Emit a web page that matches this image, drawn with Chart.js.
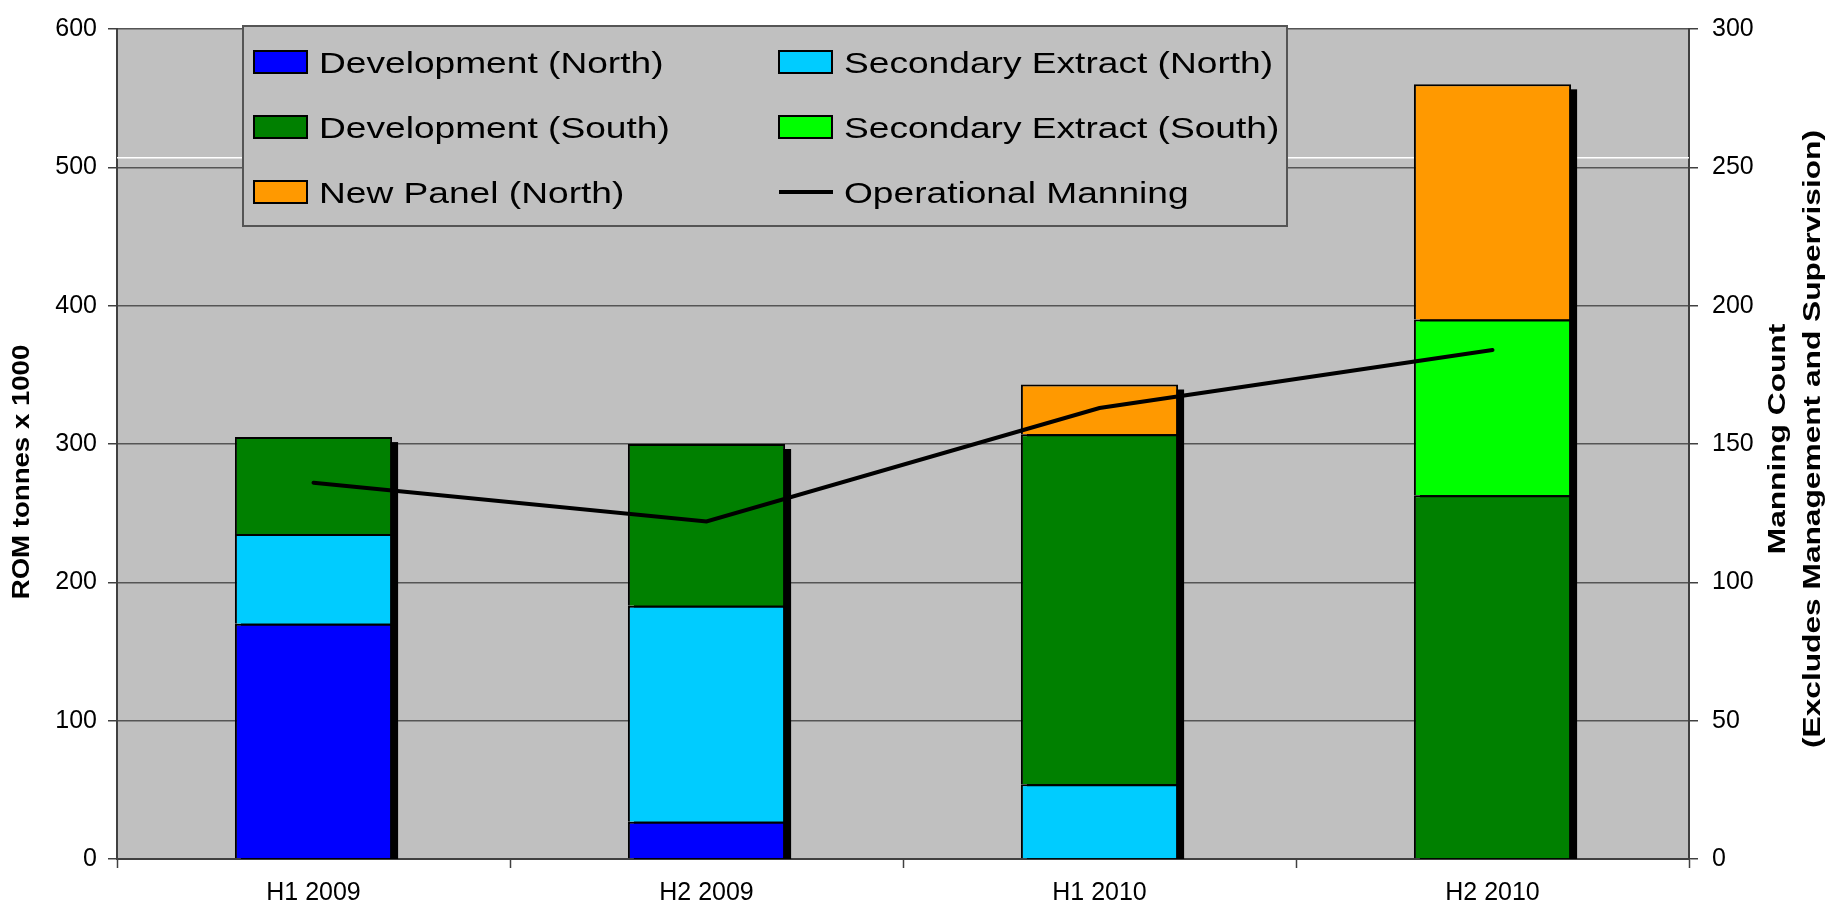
<!DOCTYPE html>
<html>
<head>
<meta charset="utf-8">
<title>ROM tonnes and manning</title>
<script src="https://cdn.jsdelivr.net/npm/chart.js@4.4.1/dist/chart.umd.min.js"></script>
<style>
    body { margin: 0; background: #ffffff; }
    canvas { display: block; }
</style>
</head>
<body>
<canvas id="romChart" width="1831" height="909"></canvas>
<script>
// data
const categories = ['H1 2009', 'H2 2009', 'H1 2010', 'H2 2010'];
const developmentNorth = [170, 27, null, null];
const secondaryNorth = [65, 156, 54, null];
const developmentSouth = [70, 117, 253, 263];
const secondarySouth = [null, null, null, 127];
const newPanelNorth = [null, null, 36, 170];
const operationalManning = [136, 122, 163, 184];

const leftTicks = [0, 100, 200, 300, 400, 500, 600];
const rightTicks = [0, 50, 100, 150, 200, 250, 300];
const leftTitle = 'ROM tonnes x 1000';
const rightTitle = ['Manning Count', '(Excludes Management and Supervision)'];
const whiteLineValue = 507;

const tickFont = { family: "'Liberation Sans', Arial, sans-serif", size: 25 };
const axisColor = '#404040';

function barSet(label, data, color) {
    return {
        type: 'bar',
        label: label,
        data: data,
        backgroundColor: color,
        borderColor: '#000000',
        borderWidth: 2,
        stack: 'rom',
        yAxisID: 'y',
        order: 1,
        categoryPercentage: 1.0,
        barPercentage: 0.4
    };
}

// gray plot area
const plotBackground = {
    id: 'plotBackground',
    beforeDraw(chart) {
        const { ctx, chartArea } = chart;
        ctx.save();
        ctx.fillStyle = '#c0c0c0';
        ctx.fillRect(chartArea.left, chartArea.top, chartArea.right - chartArea.left, chartArea.bottom - chartArea.top);
        ctx.restore();
    }
};

// thin white line + drop shadow behind each stack
const barShadows = {
    id: 'barShadows',
    beforeDatasetsDraw(chart) {
        const { ctx, chartArea } = chart;
        const y = chart.scales.y.getPixelForValue(whiteLineValue);
        ctx.save();
        ctx.strokeStyle = '#ffffff';
        ctx.lineWidth = 1.5;
        ctx.beginPath();
        ctx.moveTo(chartArea.left, y);
        ctx.lineTo(chartArea.right, y);
        ctx.stroke();

        ctx.beginPath();
        ctx.rect(chartArea.left, chartArea.top, chartArea.right - chartArea.left, chartArea.bottom - chartArea.top);
        ctx.clip();
        ctx.fillStyle = '#000000';
        categories.forEach((c, i) => {
            let top = null, left = 0, width = 0, base = 0;
            chart.data.datasets.forEach((ds, d) => {
                if (ds.type !== 'bar' || ds.data[i] == null) return;
                const el = chart.getDatasetMeta(d).data[i];
                const p = el.getProps(['x', 'y', 'base', 'width'], true);
                if (top === null || p.y < top) top = p.y;
                left = p.x - p.width / 2;
                width = p.width;
                base = Math.max(base, p.base);
            });
            if (top === null) return;
            ctx.fillRect(left + 6, top + 5, width, chartArea.bottom - top);
        });
        ctx.restore();
    }
};

// floating legend box in two columns
const boxLegend = {
    id: 'boxLegend',
    afterDatasetsDraw(chart) {
        const { ctx, chartArea } = chart;
        const bx = chartArea.left + 126, by = chartArea.top - 3;
        const bw = 1044, bh = 200;
        ctx.save();
        ctx.fillStyle = '#c0c0c0';
        ctx.fillRect(bx, by, bw, bh);
        ctx.strokeStyle = '#555555';
        ctx.lineWidth = 2;
        ctx.strokeRect(bx, by, bw, bh);

        const colX = [bx + 11, bx + 536];
        const rowY = [by + 36, by + 101, by + 166];
        chart.data.datasets.forEach((ds, i) => {
            const x = colX[i % 2];
            const y = rowY[Math.floor(i / 2)];
            if (ds.type === 'line') {
                ctx.strokeStyle = '#000000';
                ctx.lineWidth = 4;
                ctx.beginPath();
                ctx.moveTo(x, y);
                ctx.lineTo(x + 54, y);
                ctx.stroke();
            } else {
                ctx.fillStyle = ds.backgroundColor;
                ctx.fillRect(x, y - 11, 53, 22);
                ctx.strokeStyle = '#000000';
                ctx.lineWidth = 2;
                ctx.strokeRect(x, y - 11, 53, 22);
            }
            ctx.save();
            ctx.translate(x + 65, y + 10.5);
            ctx.scale(1.28, 1);
            ctx.fillStyle = '#000000';
            ctx.font = "29px 'Liberation Sans', Arial, sans-serif";
            ctx.textBaseline = 'alphabetic';
            ctx.textAlign = 'left';
            ctx.fillText(ds.label, 0, 0);
            ctx.restore();
        });
        ctx.restore();
    }
};

// vertical axis titles, both read bottom to top
const axisTitles = {
    id: 'axisTitles',
    afterDraw(chart) {
        const { ctx, chartArea } = chart;
        const midY = (chartArea.top + chartArea.bottom) / 2;
        ctx.save();
        ctx.fillStyle = '#000000';
        ctx.textAlign = 'center';
        ctx.textBaseline = 'middle';
        ctx.font = "bold 23px 'Liberation Sans', Arial, sans-serif";

        ctx.save();
        ctx.translate(23, midY + 28);
        ctx.rotate(-Math.PI / 2);
        ctx.scale(1.2, 1);
        ctx.fillText(leftTitle, 0, 0);
        ctx.restore();

        ctx.font = "bold 24px 'Liberation Sans', Arial, sans-serif";
        rightTitle.forEach((t, i) => {
            ctx.save();
            ctx.translate(1778 + i * 35, midY - 5);
            ctx.rotate(-Math.PI / 2);
            ctx.scale(1.32, 1);
            ctx.fillText(t, 0, 0);
            ctx.restore();
        });
        ctx.restore();
    }
};

const ctx = document.getElementById('romChart').getContext('2d');

new Chart(ctx, {
    data: {
        labels: categories,
        datasets: [
            barSet('Development (North)', developmentNorth, '#0000ff'),
            barSet('Secondary Extract (North)', secondaryNorth, '#00ccff'),
            barSet('Development (South)', developmentSouth, '#008000'),
            barSet('Secondary Extract (South)', secondarySouth, '#00ff00'),
            barSet('New Panel (North)', newPanelNorth, '#ff9900'),
            {
                type: 'line',
                label: 'Operational Manning',
                data: operationalManning,
                borderColor: '#000000',
                borderWidth: 4,
                borderCapStyle: 'round',
                pointRadius: 0,
                tension: 0,
                fill: false,
                yAxisID: 'y1',
                order: 0
            }
        ]
    },
    options: {
        responsive: false,
        devicePixelRatio: 1,
        animation: false,
        layout: { padding: { top: 28, left: 0, right: 0, bottom: 0 } },
        plugins: {
            legend: { display: false },
            tooltip: { enabled: false }
        },
        scales: {
            x: {
                stacked: true,
                grid: { drawOnChartArea: false, drawTicks: true, tickLength: 9, tickColor: axisColor, tickWidth: 1.5, offset: true },
                border: { display: true, color: axisColor, width: 2 },
                ticks: { font: tickFont, color: '#000000', padding: 10, maxRotation: 0 },
                afterFit: s => { s.height = 50; }
            },
            y: {
                position: 'left',
                stacked: true,
                min: 0,
                max: 600,
                afterBuildTicks: s => { s.ticks = leftTicks.map(v => ({ value: v })); },
                grid: { color: '#555555', lineWidth: 1.5, tickLength: 9, tickColor: axisColor },
                border: { display: true, color: axisColor, width: 2 },
                ticks: { font: tickFont, color: '#000000', padding: 11 },
                afterFit: s => { s.width = 117; }
            },
            y1: {
                position: 'right',
                min: 0,
                max: 300,
                afterBuildTicks: s => { s.ticks = rightTicks.map(v => ({ value: v })); },
                grid: { drawOnChartArea: false, tickLength: 9, tickColor: axisColor, lineWidth: 1.5 },
                border: { display: true, color: axisColor, width: 2 },
                ticks: { font: tickFont, color: '#000000', padding: 14 },
                afterFit: s => { s.width = 142; }
            }
        }
    },
    plugins: [plotBackground, barShadows, boxLegend, axisTitles]
});
</script>
</body>
</html>
